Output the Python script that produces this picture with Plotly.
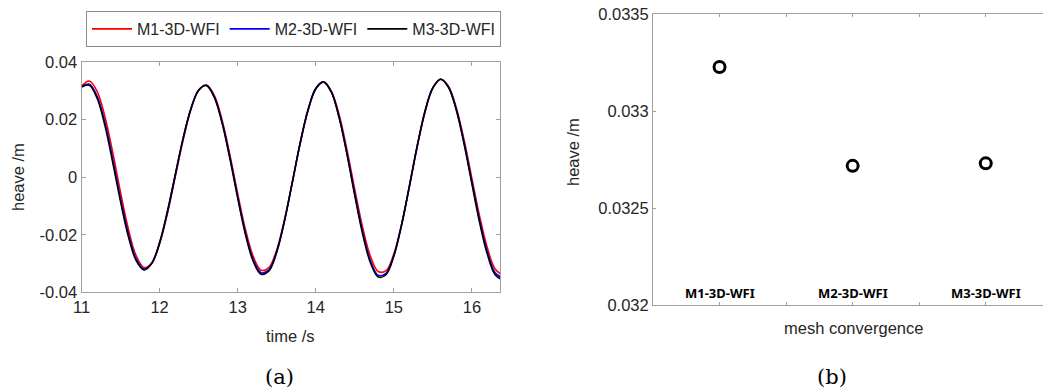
import plotly.graph_objects as go

# ---- panel (a) data: heave time series ----
time_s = [11.0, 11.1, 11.2, 11.3, 11.4, 11.5, 11.6, 11.7, 11.8, 11.9,
          12.0, 12.1, 12.2, 12.3, 12.4, 12.5, 12.6, 12.7, 12.8, 12.9,
          13.0, 13.1, 13.2, 13.3, 13.4, 13.5, 13.6, 13.7, 13.8, 13.9,
          14.0, 14.1, 14.2, 14.3, 14.4, 14.5, 14.6, 14.7, 14.8, 14.9,
          15.0, 15.1, 15.2, 15.3, 15.4, 15.5, 15.6, 15.7, 15.8, 15.9,
          16.0, 16.1, 16.2, 16.3, 16.4]

heave_m1 = [0.0316, 0.0334, 0.0298, 0.0210, 0.0086, -0.0053, -0.0180, -0.0273, -0.0314, -0.0298,
            -0.0232, -0.0127, 0.0000, 0.0127, 0.0234, 0.0302, 0.0320, 0.0284, 0.0199, 0.0078,
            -0.0057, -0.0182, -0.0276, -0.0323, -0.0314, -0.0253, -0.0148, -0.0018, 0.0116, 0.0230,
            0.0306, 0.0331, 0.0299, 0.0216, 0.0095, -0.0043, -0.0174, -0.0275, -0.0328, -0.0325,
            -0.0267, -0.0163, -0.0032, 0.0106, 0.0226, 0.0309, 0.0340, 0.0316, 0.0241, 0.0129,
            -0.0004, -0.0137, -0.0248, -0.0320, -0.0341]

heave_m2 = [0.0314, 0.0323, 0.0281, 0.0189, 0.0062, -0.0075, -0.0197, -0.0284, -0.0319, -0.0299,
            -0.0229, -0.0122, 0.0005, 0.0132, 0.0236, 0.0302, 0.0319, 0.0280, 0.0192, 0.0070,
            -0.0067, -0.0193, -0.0287, -0.0332, -0.0322, -0.0258, -0.0151, -0.0018, 0.0117, 0.0232,
            0.0307, 0.0331, 0.0296, 0.0209, 0.0084, -0.0057, -0.0189, -0.0290, -0.0341, -0.0334,
            -0.0272, -0.0165, -0.0031, 0.0108, 0.0229, 0.0310, 0.0340, 0.0313, 0.0236, 0.0120,
            -0.0016, -0.0151, -0.0262, -0.0333, -0.0350]

heave_m3 = [0.0313, 0.0319, 0.0274, 0.0179, 0.0051, -0.0085, -0.0206, -0.0290, -0.0322, -0.0299,
            -0.0227, -0.0119, 0.0008, 0.0134, 0.0237, 0.0302, 0.0318, 0.0278, 0.0189, 0.0065,
            -0.0072, -0.0199, -0.0293, -0.0337, -0.0326, -0.0261, -0.0152, -0.0018, 0.0118, 0.0233,
            0.0308, 0.0331, 0.0295, 0.0206, 0.0079, -0.0064, -0.0197, -0.0297, -0.0347, -0.0339,
            -0.0275, -0.0166, -0.0030, 0.0109, 0.0230, 0.0311, 0.0340, 0.0312, 0.0233, 0.0115,
            -0.0023, -0.0159, -0.0270, -0.0340, -0.0357]

series_names = ["M1-3D-WFI", "M2-3D-WFI", "M3-3D-WFI"]
series_colors = ["#ff0000", "#0000ff", "#000000"]

# ---- panel (b) data: mesh convergence ----
mesh_labels = ["M1-3D-WFI", "M2-3D-WFI", "M3-3D-WFI"]
mesh_pos = [1, 2, 3]
mesh_heave = [0.033228, 0.032718, 0.032731]

left_xticks = [11, 12, 13, 14, 15, 16]
left_yticks = [-0.04, -0.02, 0, 0.02, 0.04]
left_yticktext = ["-0.04", "-0.02", "0", "0.02", "0.04"]
right_yticks = [0.032, 0.0325, 0.033, 0.0335]
right_yticktext = ["0.032", "0.0325", "0.033", "0.0335"]
right_xticks = [0.5, 1, 1.5, 2, 2.5, 3, 3.5]

W, H = 1043, 392
AXC = "#a0a0a0"
TXT = "#262626"
SANS = "Liberation Sans, Arial, sans-serif"
FS = 16.5

fig = go.Figure()
for y, name, col in zip([heave_m1, heave_m2, heave_m3], series_names, series_colors):
    fig.add_trace(go.Scatter(x=time_s, y=y, mode="lines", name=name,
                             line=dict(color=col, width=1.6, shape="spline", smoothing=1.0),
                             xaxis="x", yaxis="y"))

fig.add_trace(go.Scatter(x=mesh_pos, y=mesh_heave, mode="markers", showlegend=False,
                         marker=dict(symbol="circle-open", size=11, color="black",
                                     line=dict(color="black", width=3)),
                         xaxis="x2", yaxis="y2"))

def px_x(p):
    return p / W

def px_y(p):
    return 1 - p / H

common_axis = dict(showgrid=False, zeroline=False, showline=True, linecolor=AXC, linewidth=1,
                   ticks="inside", tickcolor=AXC, tickwidth=1, automargin=False,
                   tickfont=dict(family=SANS, size=FS, color=TXT))

fig.update_layout(
    width=W, height=H,
    margin=dict(l=0, r=0, t=0, b=0),
    paper_bgcolor="white", plot_bgcolor="white",
    showlegend=True,
    legend=dict(orientation="h", x=px_x(86), y=px_y(11), xanchor="left", yanchor="top",
                bordercolor="#8c8c8c", borderwidth=1, bgcolor="white",
                font=dict(family=SANS, size=16, color=TXT),
                itemwidth=40, tracegroupgap=0),
    xaxis=dict(domain=[px_x(81.5), px_x(500)], range=[11, 16.36],
               tickvals=left_xticks, mirror="ticks", ticklen=4, anchor="y", **common_axis),
    yaxis=dict(domain=[px_y(292.3), px_y(62)], range=[-0.04, 0.04],
               tickvals=left_yticks, ticktext=left_yticktext, mirror="ticks", ticklen=4,
               anchor="x", **common_axis),
    xaxis2=dict(domain=[px_x(653), 1.0], range=[0.5, 3.43],
                tickvals=right_xticks, ticktext=[""] * len(right_xticks),
                mirror="ticks", ticklen=3, anchor="y2", **common_axis),
    yaxis2=dict(domain=[px_y(305), px_y(14.3)], range=[0.032, 0.0335],
                tickvals=right_yticks, ticktext=right_yticktext, mirror=False, ticklen=3,
                anchor="x2", **common_axis),
)

ann = []
# category labels inside panel (b)
for pos, lab in zip(mesh_pos, mesh_labels):
    ann.append(dict(x=pos, y=0, xref="x2", yref="y2 domain", text="<b>" + lab + "</b>",
                    showarrow=False, xanchor="center", yanchor="bottom", yshift=1,
                    font=dict(family="Noto Sans, sans-serif", size=13, color="black")))
# axis titles
ann.append(dict(x=px_x(290), y=px_y(336), xref="paper", yref="paper", text="time /s",
                showarrow=False, xanchor="center", yanchor="middle",
                font=dict(family=SANS, size=FS, color=TXT)))
ann.append(dict(x=px_x(18), y=px_y(177), xref="paper", yref="paper", text="heave /m",
                showarrow=False, xanchor="center", yanchor="middle", textangle=-90,
                font=dict(family=SANS, size=FS, color=TXT)))
ann.append(dict(x=px_x(853), y=px_y(328), xref="paper", yref="paper", text="mesh convergence",
                showarrow=False, xanchor="center", yanchor="middle",
                font=dict(family=SANS, size=FS, color=TXT)))
ann.append(dict(x=px_x(573), y=px_y(152), xref="paper", yref="paper", text="heave /m",
                showarrow=False, xanchor="center", yanchor="middle", textangle=-90,
                font=dict(family=SANS, size=FS, color=TXT)))
# subfigure captions
ann.append(dict(x=px_x(279), y=px_y(377), xref="paper", yref="paper", text="(a)",
                showarrow=False, xanchor="center", yanchor="middle",
                font=dict(family="DejaVu Serif, Liberation Serif, serif", size=21, color="black")))
ann.append(dict(x=px_x(832), y=px_y(377), xref="paper", yref="paper", text="(b)",
                showarrow=False, xanchor="center", yanchor="middle",
                font=dict(family="DejaVu Serif, Liberation Serif, serif", size=21, color="black")))
fig.update_layout(annotations=ann)

fig.write_html("out.html")
